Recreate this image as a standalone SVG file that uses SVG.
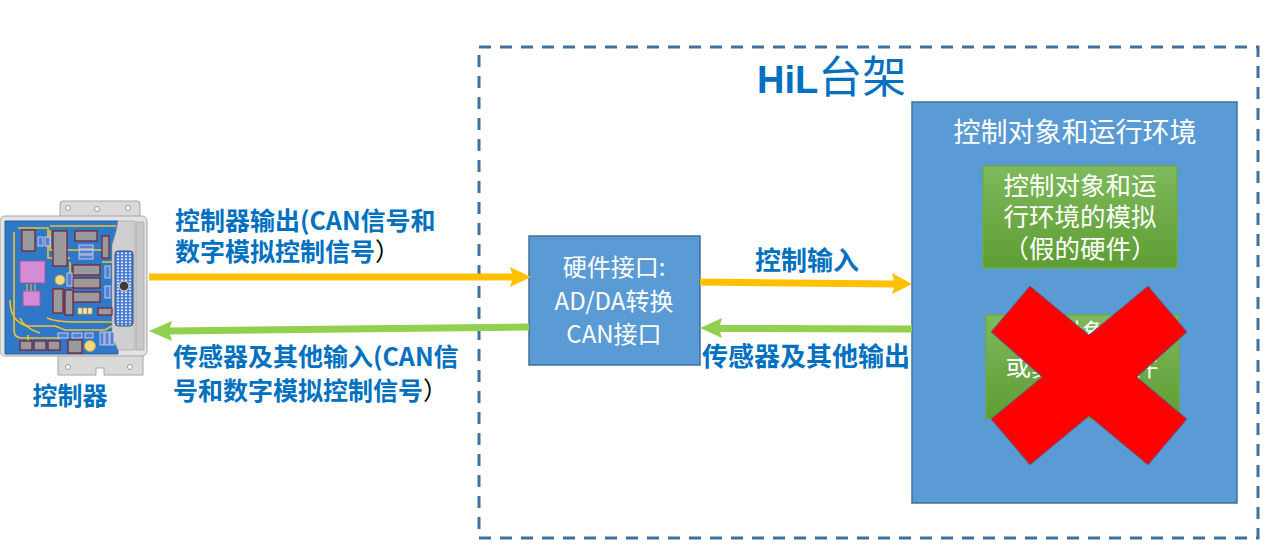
<svg xmlns="http://www.w3.org/2000/svg" width="1279" height="548" viewBox="0 0 1279 548">
<style>
.lbl{font-family:"Noto Sans CJK SC","Liberation Sans",sans-serif;font-weight:bold;fill:#0070C0;font-size:25px}
.big{font-size:26px}
.wt{font-family:"Noto Sans CJK SC","Liberation Sans",sans-serif;fill:#FFFFFF;font-size:24px;text-anchor:middle}
.wt27{font-size:27px}
.wt25{font-size:25.5px}
.blue{fill:#5B9BD5;stroke:#41719C;stroke-width:1.5}
.grn{fill:url(#gg);stroke:#6FAA45;stroke-width:1.5}
.or{fill:#FFC000}
.gr{fill:#92D050}
.chip{fill:#9A9A9E;stroke:#7A1F2B;stroke-width:1.2}
.res{fill:#5B7FD0;stroke:#D9E2F0;stroke-width:0.8}
.tr{fill:none;stroke:#F2C12E;stroke-width:1.6}
.hole{fill:#FFFFFF;stroke:#9A9A9A}
</style>
<defs>
<linearGradient id="gg" x1="0" y1="0" x2="0" y2="1">
<stop offset="0" stop-color="#7EB95B"/>
<stop offset="1" stop-color="#5E9D34"/>
</linearGradient>
<pattern id="pins" x="0" y="0" width="4" height="3" patternUnits="userSpaceOnUse">
<rect width="4" height="3" fill="#4D7FD4"/>
<rect x="1" y="0.5" width="2" height="1.5" fill="#E6EEFA"/>
</pattern>
</defs>
<rect width="1279" height="548" fill="#FFFFFF"/>

<g id="hil-frame">
<rect x="479" y="47" width="779" height="491" fill="none" stroke="#41719C" stroke-width="3" stroke-dasharray="12 9"/>
<text x="757" y="93" font-family="'Liberation Sans','Noto Sans CJK SC',sans-serif" fill="#0070C0"><tspan font-size="38" font-weight="bold">HiL</tspan><tspan font-family="'Noto Sans CJK SC',sans-serif" font-size="44">台架</tspan></text>
</g>

<g id="controller">
<rect x="60" y="201" width="80" height="20" rx="3" fill="#DADADA" stroke="#A6A6A6"/>
<circle cx="68" cy="208" r="2.5" class="hole"/>
<circle cx="97" cy="209" r="2.5" class="hole"/>
<circle cx="128" cy="208" r="2.5" class="hole"/>
<path d="M58 350 H143 V375 H104 V368 H96 V375 H58 Z" fill="#DADADA" stroke="#A6A6A6"/>
<circle cx="68" cy="367" r="2.5" class="hole"/>
<circle cx="130" cy="367" r="2.5" class="hole"/>
<rect x="0" y="216" width="147" height="140" rx="5" fill="#E4E4E4" stroke="#A6A6A6"/>
<rect x="136" y="222" width="8" height="128" fill="#C8C8C8" stroke="#A0A0A0" stroke-width="0.6"/>
<path d="M5 221 H118 L116 232 L112 245 V336 L118 348 V354 H5 Z" fill="#2E78C7" stroke="#2A5E9A"/>
<path d="M118 221 H135 V350 H118 L112 336 V245 L116 232 Z" fill="#CFCFCF" stroke="#9E9E9E" stroke-width="0.6"/>
<rect x="115" y="251" width="18" height="75" rx="3" fill="url(#pins)" stroke="#2A4F95"/>
<circle cx="124" cy="286" r="5" fill="#3A3A3A" stroke="#BBBBBB" stroke-width="1.5"/>
<g>
<path class="tr" d="M14 232 V330 Q14 338 22 338 H60"/>
<path class="tr" d="M18 228 H48 V258 H70"/>
<path class="tr" d="M10 300 Q10 322 28 326 H55 L65 330 H105 L112 326"/>
<path class="tr" d="M20 318 Q24 328 40 333"/>
<path class="tr" d="M50 230 V250 H110"/>
<path class="tr" d="M47 318 Q56 322 75 322 H112"/>
<path class="tr" d="M70 262 V282 H68"/>
<path class="tr" d="M102 262 H112"/>
<path class="tr" d="M28 335 V345"/>
<path class="tr" d="M50 226 H116"/>
</g>
<rect x="22" y="230" width="13" height="21" class="chip"/>
<rect x="53" y="231" width="14" height="35" class="chip"/>
<rect x="75" y="231" width="22" height="10" class="chip"/>
<rect x="102" y="236" width="7" height="22" class="chip"/>
<rect x="73" y="265" width="27" height="10" class="chip"/>
<rect x="73" y="278" width="27" height="10" class="chip"/>
<rect x="73" y="292" width="27" height="10" class="chip"/>
<rect x="53" y="289" width="10" height="24" class="chip"/>
<rect x="65" y="290" width="8" height="25" class="chip"/>
<rect x="98" y="308" width="14" height="7" class="chip"/>
<rect x="20" y="341" width="12" height="9" class="chip"/>
<rect x="34" y="341" width="12" height="9" class="chip"/>
<rect x="48" y="341" width="12" height="9" class="chip"/>
<rect x="68" y="340" width="14" height="13" class="chip"/>
<rect x="20" y="261" width="25" height="22" fill="#D58BD5" stroke="#9C5C9C"/>
<rect x="23" y="291" width="17" height="15" fill="#D58BD5" stroke="#9C5C9C"/>
<g stroke="#F2C12E" stroke-width="1"><line x1="27" y1="284" x2="27" y2="291"/><line x1="31" y1="284" x2="31" y2="291"/><line x1="35" y1="284" x2="35" y2="291"/></g>
<circle cx="60" cy="280" r="5" fill="#F1D78A" stroke="#C9A24A"/>
<circle cx="90" cy="346" r="5.5" fill="#F1D78A" stroke="#C9A24A"/>
<rect x="38" y="237" width="5" height="9" class="res"/>
<rect x="45" y="237" width="5" height="9" class="res"/>
<rect x="79" y="245" width="14" height="4" class="res"/>
<rect x="79" y="250" width="14" height="4" class="res"/>
<rect x="79" y="255" width="14" height="4" class="res"/>
<rect x="67" y="273" width="5" height="13" class="res"/>
<rect x="105" y="266" width="5" height="12" class="res"/>
<rect x="105" y="286" width="5" height="12" class="res"/>
<rect x="58" y="333" width="10" height="5" class="res"/>
<rect x="72" y="333" width="10" height="5" class="res"/>
<rect x="85" y="333" width="8" height="5" class="res"/>
<rect x="100" y="332" width="4" height="13" class="res"/>
<rect x="105" y="332" width="4" height="13" class="res"/>
<rect x="110" y="332" width="4" height="13" class="res"/>
<g fill="#F6E7B0" stroke="#C9A24A" stroke-width="0.6"><rect x="78" y="308" width="4" height="6"/><rect x="83" y="308" width="4" height="6"/><rect x="88" y="308" width="4" height="6"/></g>
<text x="70" y="405" class="lbl" text-anchor="middle">控制器</text>
</g>

<g id="hw-interface">
<rect x="529" y="236" width="171" height="129" class="blue"/>
<text class="wt" x="614" y="276">硬件接口:</text>
<text class="wt" x="614" y="310">AD/DA转换</text>
<text class="wt" x="614" y="343">CAN接口</text>
</g>

<g id="plant-env">
<rect x="912" y="102" width="325" height="401" class="blue"/>
<text class="wt wt27" x="1075" y="142">控制对象和运行环境</text>
</g>

<g id="plant-sim">
<rect x="983" y="166" width="194" height="102" class="grn"/>
<text class="wt wt25" x="1080" y="195">控制对象和运</text>
<text class="wt wt25" x="1080" y="226">行环境的模拟</text>
<text class="wt wt25" x="1080" y="258">（假的硬件）</text>
</g>

<g id="real-hw">
<rect x="986" y="315" width="193" height="104" class="grn"/>
<text class="wt wt25" x="1082" y="342">控制对象和运</text>
<text class="wt wt25" x="1082" y="376">或真实的硬件</text>
<text class="wt wt25" x="1082" y="410">（部分）</text>
<polygon points="1030,286 1089,335 1148,286 1187,332 1137,377 1187,419 1148,465 1089,416 1030,465 991,419 1042,377 991,332" fill="#FF0000" stroke="#41719C" stroke-width="1"/>
</g>

<g id="connectors">
<polygon class="or" points="149,273.5 512,273.5 510,267 531,277 510,287 512,280.5 149,280.5"/>
<polygon class="or" points="700,278.5 894,280.5 892,273 912,284 892,294 894,287.5 700,285.5"/>
<polygon class="gr" points="912,325.5 720,325 722,318 700,328 722,338 720,332 912,332.5"/>
<polygon class="gr" points="529,323.5 170,327.5 172,321 149,331 172,341 170,334.5 529,330.5"/>
</g>

<g id="labels">
<text class="lbl" x="175" y="230">控制器输出(CAN信号和</text>
<text class="lbl" x="175" y="261">数字模拟控制信号<tspan font-weight="normal" fill="#000000">）</tspan></text>
<text class="lbl" x="173" y="366">传感器及其他输入(CAN信</text>
<text class="lbl" x="173" y="400">号和数字模拟控制信号<tspan font-weight="normal" fill="#000000">）</tspan></text>
<text class="lbl big" x="755" y="270">控制输入</text>
<text class="lbl big" x="702" y="366">传感器及其他输出</text>
</g>
</svg>
